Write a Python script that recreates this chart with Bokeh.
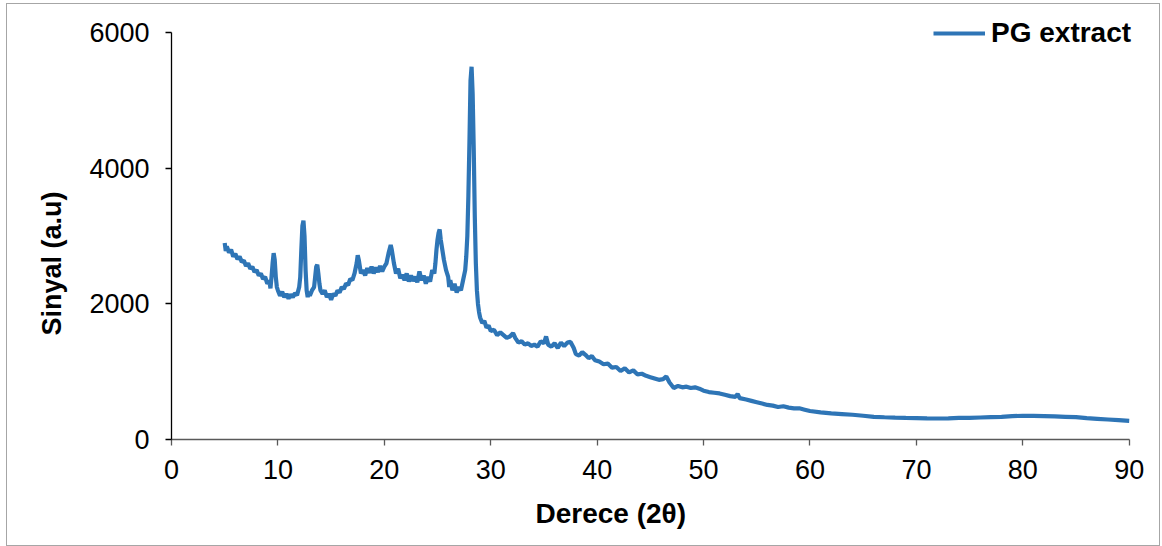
from bokeh.plotting import figure
from bokeh.models import Range1d, Legend, LegendItem, FixedTicker, Title
from bokeh.embed import file_html
from bokeh.resources import INLINE

two_theta = [5.0, 5.1, 5.2, 5.4, 5.6, 5.8, 6.0, 6.2, 6.4, 6.6, 6.8, 7.0, 7.2, 7.4, 7.6, 7.8, 8.0, 8.2, 8.4, 8.6, 8.8,
             9.0, 9.2, 9.3, 9.4, 9.5, 9.6, 9.7, 9.8, 9.9, 10.0, 10.2, 10.4, 10.6, 10.8, 11.0, 11.2, 11.4, 11.6, 11.8,
             12.0, 12.1, 12.2, 12.3, 12.4, 12.5, 12.6, 12.7, 12.8, 12.9, 13.0, 13.2, 13.4, 13.5, 13.6, 13.7, 13.8, 13.9,
             14.0, 14.2, 14.4, 14.6, 14.8, 15.0, 15.2, 15.4, 15.6, 15.8, 16.0, 16.2, 16.4, 16.6, 16.8, 17.0, 17.2, 17.4,
             17.5, 17.6, 17.8, 18.0, 18.2, 18.4, 18.6, 18.8, 19.0, 19.2, 19.4, 19.6, 19.8, 20.0, 20.2, 20.4, 20.6, 20.7,
             20.9, 21.1, 21.3, 21.5, 21.7, 21.9, 22.1, 22.3, 22.5, 22.7, 22.9, 23.1, 23.3, 23.5, 23.7, 23.9, 24.1, 24.3,
             24.5, 24.7, 24.8, 24.9, 25.0, 25.1, 25.2, 25.3, 25.4, 25.5, 25.6, 25.8, 26.0, 26.1, 26.2, 26.4, 26.6, 26.8,
             27.0, 27.2, 27.4, 27.6, 27.7, 27.8, 27.9, 28.0, 28.1, 28.2, 28.3, 28.4, 28.5, 28.6, 28.7, 28.8, 28.9, 29.0,
             29.2, 29.4, 29.6, 29.8, 30.0, 30.3, 30.6, 30.9, 31.2, 31.5, 31.8, 32.1, 32.3, 32.6, 32.9, 33.2, 33.5, 33.8,
             34.1, 34.4, 34.7, 35.0, 35.2, 35.4, 35.7, 36.0, 36.3, 36.6, 36.9, 37.2, 37.5, 37.8, 38.0, 38.3, 38.6, 38.9,
             39.2, 39.5, 39.8, 40.2, 40.6, 41.0, 41.4, 41.8, 42.2, 42.6, 43.0, 43.4, 43.8, 44.2, 44.6, 45.0, 45.4, 45.8,
             46.2, 46.5, 46.8, 47.2, 47.6, 48.0, 48.4, 48.8, 49.2, 49.6, 50.0, 50.5, 51.0, 51.5, 52.0, 52.5, 53.0, 53.2,
             53.4, 54.0, 54.5, 55.0, 55.5, 56.0, 56.5, 57.0, 57.5, 58.0, 58.5, 59.0, 59.5, 60.0, 61, 62, 63, 64, 65, 66,
             67, 68, 69, 70, 71, 72, 73, 74, 75, 76, 77, 78, 79, 80, 81, 82, 83, 84, 85, 86, 87, 88, 89, 90]

signal = [2900, 2780, 2850, 2760, 2800, 2700, 2740, 2660, 2700, 2620, 2640, 2560, 2600, 2520, 2550, 2470, 2500, 2420, 2450, 2370, 2400,
          2300, 2340, 2230, 2400, 2600, 2750, 2650, 2400, 2250, 2200, 2120, 2180, 2100, 2150, 2080, 2140, 2100, 2160, 2130,
          2250, 2400, 2800, 3150, 3230, 3000, 2500, 2200, 2100, 2180, 2120, 2200, 2250, 2400, 2550, 2580, 2450, 2300,
          2200, 2150, 2200, 2100, 2150, 2060, 2150, 2120, 2200, 2170, 2250, 2220, 2300, 2280, 2370, 2350, 2450, 2600,
          2720, 2650, 2450, 2500, 2420, 2530, 2460, 2550, 2450, 2540, 2470, 2560, 2480, 2550, 2600, 2750, 2870, 2800,
          2600, 2450, 2520, 2380, 2430, 2350, 2450, 2330, 2420, 2340, 2400, 2320, 2480, 2350, 2420, 2300, 2400, 2330,
          2500, 2450, 2600, 2800, 2950, 3050, 3100, 2950, 2850, 2750, 2650, 2500, 2400, 2250, 2350, 2200, 2300, 2170,
          2250, 2200, 2350, 2500, 2700, 3000, 3600, 4400, 5300, 5500, 5100, 4300, 3300, 2600, 2200, 2000, 1880, 1800,
          1720, 1750, 1650, 1680, 1600, 1620, 1540, 1580, 1540, 1500, 1520, 1570, 1500, 1430, 1450, 1400, 1420, 1380,
          1400, 1370, 1450, 1420, 1520, 1400, 1370, 1420, 1350, 1430, 1380, 1430, 1440, 1350, 1260, 1240, 1290, 1250,
          1200, 1230, 1170, 1150, 1110, 1120, 1060, 1070, 1010, 1050, 990, 1020, 960, 970, 940, 920, 900, 880,
          890, 930, 840, 760, 790, 770, 780, 760, 770, 750, 720, 700, 690, 680, 660, 640, 630, 670,
          610, 590, 570, 550, 530, 510, 500, 480, 490, 470, 460, 460, 440, 420, 400, 385, 375, 365, 350, 335,
          328, 322, 318, 315, 312, 310, 312, 318, 320, 325, 330, 335, 345, 350, 350, 345, 340, 335, 330, 315, 305, 295, 285, 275]

x_ticks = [0, 10, 20, 30, 40, 50, 60, 70, 80, 90]
y_ticks = [0, 2000, 4000, 6000]
series_name = "PG extract"
x_title = "Derece (2θ)"
y_title = "Sinyal (a.u)"

FONT = "Liberation Sans"
BLUE = "#2E75B6"

# frame extended slightly beyond the axes so the legend (which overhangs in the reference) is not clipped
p = figure(frame_width=979, frame_height=429, width=1152, height=541,
           x_range=Range1d(0, 92), y_range=Range1d(0, 6330),
           output_backend="svg", toolbar_location=None,
           min_border_left=164, min_border_right=9, min_border_top=6, min_border_bottom=106)
p.styles = {"border": "1px solid #a6a6a6", "margin-left": "6px", "margin-top": "3px"}
p.outline_line_color = None
p.xgrid.visible = False
p.ygrid.visible = False
p.background_fill_color = "white"
p.border_fill_color = "white"

r = p.line(two_theta, signal, line_color=BLUE, line_width=4.2)

for ax, ticks, col in ((p.xaxis[0], x_ticks, "#595959"), (p.yaxis[0], y_ticks, "#000000")):
    ax.ticker = FixedTicker(ticks=ticks)
    ax.bounds = (ticks[0], ticks[-1])
    ax.axis_line_color = col
    ax.axis_line_width = 1.3
    ax.major_tick_line_color = col
    ax.major_tick_line_width = 1.3
    ax.major_tick_in = 0
    ax.major_tick_out = 6
    ax.minor_tick_line_color = None
    ax.major_label_text_font = FONT
    ax.major_label_text_font_size = "27px"
    ax.major_label_text_color = "black"
    ax.major_label_standoff = 14
p.yaxis[0].major_label_standoff = 16

p.add_layout(Title(text=x_title, align="left", offset=364, standoff=29,
                   text_font=FONT, text_font_size="28px", text_font_style="bold",
                   text_color="black"), "below")
p.add_layout(Title(text=y_title, align="left", offset=104, standoff=40,
                   text_font=FONT, text_font_size="27px", text_font_style="bold",
                   text_color="black"), "left")

legend = Legend(items=[LegendItem(label=series_name, renderers=[r])], location=(762, 390),
                label_text_font=FONT, label_text_font_size="28px", label_text_font_style="bold",
                label_text_color="black", glyph_width=52, glyph_height=24, padding=0, margin=0,
                border_line_color=None, background_fill_alpha=0, label_standoff=6)
p.add_layout(legend, "center")

open("out.html", "w").write(file_html(p, INLINE))
